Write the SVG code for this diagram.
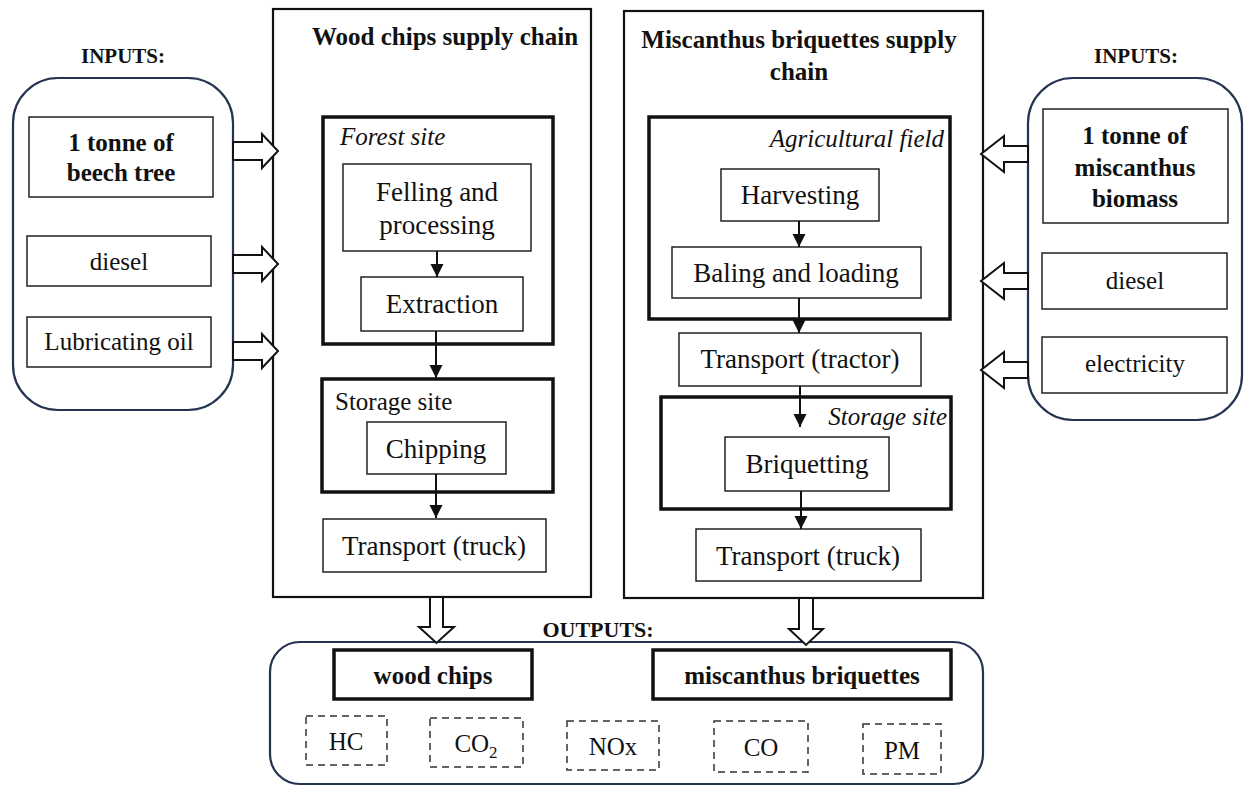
<svg xmlns="http://www.w3.org/2000/svg" width="1244" height="787" viewBox="0 0 1244 787">
<defs>
<style>
text{font-family:"Liberation Serif","Times New Roman",serif;fill:#111;}
.t{font-size:25px;}
.tc{font-size:27px;}
.b{font-weight:bold;}
.i{font-style:italic;}
.m{text-anchor:middle;}
.e{text-anchor:end;}
.thin{fill:#fff;stroke:#222;stroke-width:1.5;}
.thick{fill:none;stroke:#111;stroke-width:3.5;}
.panel{fill:#fff;stroke:#111;stroke-width:2.2;}
.round{fill:#fff;stroke:#243350;stroke-width:2.2;}
.dash{fill:#fff;stroke:#333;stroke-width:1.5;stroke-dasharray:7 5;}
.blk{fill:#fff;stroke:#111;stroke-width:2;stroke-linejoin:miter;}
.ln{stroke:#111;stroke-width:2;fill:none;marker-end:url(#ah);}
</style>
<marker id="ah" viewBox="0 0 10 10" refX="10" refY="5" markerWidth="6.5" markerHeight="7" markerUnits="strokeWidth" orient="auto">
<path d="M0,0 L10,5 L0,10 Z" fill="#111"/>
</marker>
</defs>

<g id="inputs-left">
<text class="b m" x="123" y="63" style="font-size:21px">INPUTS:</text>
<rect class="round" x="13" y="78" width="220" height="332" rx="45" ry="45"/>
</g>
<g id="in-beech"><rect class="thin" x="29" y="117" width="184" height="80"/>
<text class="t b m" x="121" y="151">1 tonne of</text><text class="t b m" x="121" y="181">beech tree</text></g>
<g id="in-diesel-left"><rect class="thin" x="27" y="236" width="184" height="50"/><text class="t m" x="119" y="270">diesel</text></g>
<g id="in-oil"><rect class="thin" x="27" y="317" width="184" height="50"/><text class="t m" x="119" y="350">Lubricating oil</text></g>

<g id="wood-panel">
<rect class="panel" x="273" y="9" width="318" height="588"/>
<text class="t b m" x="445" y="45">Wood chips supply chain</text>
</g>
<g id="forest-site"><rect class="thick" x="323" y="117" width="230" height="227"/>
<text class="t i" x="340" y="145">Forest site</text></g>
<g id="felling"><rect class="thin" x="343" y="164" width="188" height="87"/>
<text class="tc m" x="437" y="201">Felling and</text><text class="tc m" x="437" y="234">processing</text></g>
<g id="extraction"><rect class="thin" x="361" y="277" width="162" height="54"/><text class="tc m" x="442" y="313">Extraction</text></g>
<g id="storage-wood"><rect class="thick" x="322" y="379" width="231" height="113"/>
<text class="t" x="335" y="410">Storage site</text></g>
<g id="chipping"><rect class="thin" x="367" y="422" width="139" height="52"/><text class="tc m" x="436" y="458">Chipping</text></g>
<g id="truck-wood"><rect class="thin" x="323" y="519" width="223" height="53"/><text class="tc m" x="434" y="555">Transport (truck)</text></g>

<g id="misc-panel">
<rect class="panel" x="624" y="11" width="359" height="587"/>
<text class="t b m" x="799" y="48">Miscanthus briquettes supply</text>
<text class="t b m" x="799" y="80">chain</text>
</g>
<g id="agri-field"><rect class="thick" x="649" y="117" width="301" height="202"/>
<text class="t i e" x="944" y="147">Agricultural field</text></g>
<g id="harvesting"><rect class="thin" x="721" y="169" width="158" height="52"/><text class="tc m" x="800" y="204">Harvesting</text></g>
<g id="baling"><rect class="thin" x="672" y="247" width="249" height="51"/><text class="tc m" x="796" y="282">Baling and loading</text></g>
<g id="tractor"><rect class="thin" x="679" y="333" width="242" height="53"/><text class="tc m" x="800" y="368">Transport (tractor)</text></g>
<g id="storage-misc"><rect class="thick" x="661" y="397" width="290" height="112"/>
<text class="t i e" x="947" y="425">Storage site</text></g>
<g id="briquetting"><rect class="thin" x="725" y="437" width="164" height="54"/><text class="tc m" x="807" y="473">Briquetting</text></g>
<g id="truck-misc"><rect class="thin" x="696" y="529" width="225" height="52"/><text class="tc m" x="808" y="565">Transport (truck)</text></g>

<g id="inputs-right">
<text class="b m" x="1136" y="63" style="font-size:21px">INPUTS:</text>
<rect class="round" x="1028" y="78" width="214" height="342" rx="45" ry="45"/>
</g>
<g id="in-misc"><rect class="thin" x="1043" y="109" width="185" height="114"/>
<text class="t b m" x="1135" y="144">1 tonne of</text><text class="t b m" x="1135" y="176">miscanthus</text><text class="t b m" x="1135" y="207">biomass</text></g>
<g id="in-diesel-right"><rect class="thin" x="1042" y="253" width="185" height="56"/><text class="t m" x="1135" y="289">diesel</text></g>
<g id="in-electricity"><rect class="thin" x="1042" y="337" width="185" height="56"/><text class="t m" x="1135" y="372">electricity</text></g>

<g id="outputs">
<rect class="round" x="270" y="642" width="713" height="142" rx="30" ry="30"/>
<text class="b m" x="598" y="637" style="font-size:22px">OUTPUTS:</text>
</g>
<g id="out-wood"><rect class="thin" x="334" y="650" width="198" height="49" style="stroke-width:3.5;stroke:#111"/><text class="t b m" x="433" y="684">wood chips</text></g>
<g id="out-misc"><rect class="thin" x="653" y="650" width="298" height="49" style="stroke-width:3.5;stroke:#111"/><text class="t b m" x="802" y="684">miscanthus briquettes</text></g>
<g id="out-hc"><rect class="dash" x="306" y="716" width="81" height="49"/><text class="t m" x="346" y="750">HC</text></g>
<g id="out-co2"><rect class="dash" x="430" y="718" width="93" height="49"/><text class="t m" x="476" y="752">CO<tspan dy="6" style="font-size:17px">2</tspan></text></g>
<g id="out-nox"><rect class="dash" x="567" y="721" width="92" height="49"/><text class="t m" x="613" y="755">NOx</text></g>
<g id="out-co"><rect class="dash" x="714" y="721" width="94" height="51"/><text class="t m" x="761" y="756">CO</text></g>
<g id="out-pm"><rect class="dash" x="863" y="724" width="78" height="50"/><text class="t m" x="902" y="759">PM</text></g>

<g id="connectors">
<line class="ln" x1="437" y1="251" x2="437" y2="277"/>
<line class="ln" x1="436" y1="331" x2="436" y2="378"/>
<line class="ln" x1="436" y1="474" x2="436" y2="518"/>
<line class="ln" x1="799" y1="221" x2="799" y2="247"/>
<line class="ln" x1="799" y1="298" x2="799" y2="333"/>
<line class="ln" x1="800" y1="386" x2="800" y2="427"/>
<line class="ln" x1="801" y1="491" x2="801" y2="529"/>
<path class="blk" d="M233,142 H262 V134 L278,151 L262,168 V160 H233 Z"/>
<path class="blk" d="M233,255 H262 V247 L278,264 L262,281 V273 H233 Z"/>
<path class="blk" d="M233,342 H262 V334 L278,351 L262,368 V360 H233 Z"/>
<path class="blk" d="M1028,146 H1004 V136 L981,154 L1004,172 V162 H1028 Z"/>
<path class="blk" d="M1028,273 H1004 V263 L981,281 L1004,299 V289 H1028 Z"/>
<path class="blk" d="M1028,362 H1004 V352 L981,370 L1004,388 V378 H1028 Z"/>
<path class="blk" d="M430,597 V627 H419 L436.5,643 L454,627 H443 V597 Z"/>
<path class="blk" d="M799,598 V629 H789 L806,645 L823,629 H813 V598 Z"/>
</g>
</svg>
